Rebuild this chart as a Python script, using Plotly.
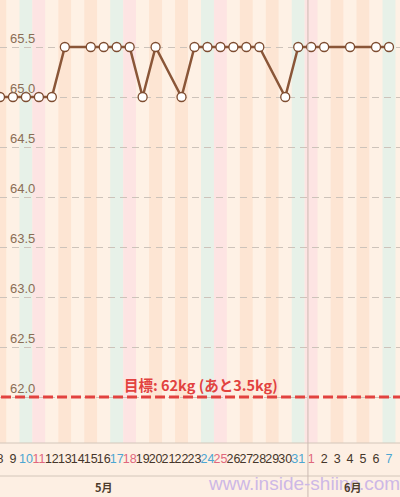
import datetime
import plotly.graph_objects as go

# days shown (8 May - 7 June 2014) and the weight on each day (None = no entry)
dates = [datetime.date(2014, 5, 8) + datetime.timedelta(days=i) for i in range(31)]
day_labels = [str(d.day) for d in dates]
weights = [65.0, 65.0, 65.0, 65.0, 65.0, 65.5, None, 65.5, 65.5, 65.5,
           65.5, 65.0, 65.5, None, 65.0, 65.5, 65.5, 65.5, 65.5, 65.5,
           65.5, None, 65.0, 65.5, 65.5, 65.5, None, 65.5, None, 65.5, 65.5]
goal = 62.0
goal_text = "目標: 62kg (あと3.5kg)"
y_ticks = [62.0, 62.5, 63.0, 63.5, 64.0, 64.5, 65.0, 65.5]
months = ["5月", "6月"]

x = list(range(len(dates)))

# stripe / label colours by weekday
stripe_col = {0: "#fef1e5", 1: "#fde5d3", 2: "#fef1e5", 3: "#fde5d3", 4: "#fef1e5",
              5: "#e7f1e8", 6: "#fde4e3"}
label_col = {5: "#4ca6d2", 6: "#e0677c"}

fig = go.Figure()

fig.add_trace(go.Scatter(
    x=x, y=weights, mode="lines+markers", connectgaps=True,
    line=dict(color="#8a5638", width=2.5),
    marker=dict(size=9, color="white", line=dict(color="#7d4c30", width=1.3)),
    showlegend=False, hoverinfo="skip",
))

# goal line
fig.add_trace(go.Scatter(
    x=[-1, len(x)], y=[goal, goal], mode="lines",
    line=dict(color="#e2423f", width=3, dash="10px,4px"),
    showlegend=False, hoverinfo="skip",
))

shapes = []
for i, d in enumerate(dates):
    shapes.append(dict(type="rect", xref="x", yref="paper", x0=i - 0.5, x1=i + 0.5,
                       y0=0, y1=1, fillcolor=stripe_col[d.weekday()],
                       line=dict(width=0), layer="below"))
# label area rules
for yy in [0, -0.0745]:
    shapes.append(dict(type="line", xref="paper", yref="paper", x0=0, x1=1, y0=yy, y1=yy,
                       line=dict(color="#d3c6ba", width=1)))
# month separator
shapes.append(dict(type="line", xref="x", yref="paper", x0=23.75, x1=23.75, y0=-0.125, y1=1,
                   line=dict(color="#cbbab2", width=1)))

ticktext = []
for d, lab in zip(dates, day_labels):
    c = label_col.get(d.weekday(), "#45362a")
    ticktext.append(f"<span style='color:{c}'>{lab}</span>")

annotations = [
    dict(text="www.inside-shiinc.com", xref="paper", yref="paper", x=0.76, y=-0.0925,
         showarrow=False, font=dict(size=19, color="#cdb8e6", family="Liberation Sans"),
         yanchor="middle", xanchor="center"),
    dict(text="<b>" + goal_text + "</b>", xref="x", yref="y", x=15.5, y=goal, yshift=13,
         showarrow=False, font=dict(size=14.5, color="#e2423f", family="Noto Sans CJK JP"),
         yanchor="middle"),
    dict(text="<b>" + months[0] + "</b>", xref="x", yref="paper", x=8, y=-0.1, showarrow=False,
         font=dict(size=11, color="#4d3b2c", family="Noto Sans CJK JP"), yanchor="middle"),
    dict(text="<b>" + months[1] + "</b>", xref="x", yref="paper", x=27.2, y=-0.1, showarrow=False,
         font=dict(size=11, color="#4d3b2c", family="Noto Sans CJK JP"), yanchor="middle"),
]
# y-axis value labels, sitting inside the plot just above each grid line
for v in y_ticks:
    annotations.append(dict(text=f"{v:.1f}", xref="paper", yref="y", x=0.02, y=v, yshift=9,
                            xanchor="left", yanchor="middle", showarrow=False,
                            font=dict(size=13, color="#8a6d55")))

fig.update_layout(
    width=400, height=497,
    margin=dict(l=0, r=0, t=0, b=54, autoexpand=False),
    paper_bgcolor="#fdefe3", plot_bgcolor="#fef1e5",
    shapes=shapes, annotations=annotations,
    font=dict(family="Liberation Sans"),
    xaxis=dict(range=[0, 30.85], tickmode="array", tickvals=x, ticktext=ticktext,
               tickangle=0, showgrid=False, zeroline=False, showline=False, ticks="",
               tickfont=dict(size=12.5, color="#45362a"), ticklabelstandoff=6,
               ticklabeloverflow="allow", automargin=False),
    yaxis=dict(range=[61.54, 65.97], tickmode="array", tickvals=y_ticks,
               showticklabels=False, automargin=False,
               showgrid=True, gridcolor="#cdc3ba", griddash="7px,5px", gridwidth=1,
               zeroline=False, showline=False),
)

fig.write_html("out.html", config={"displayModeBar": False},
               post_script="document.body.style.margin='0';")
